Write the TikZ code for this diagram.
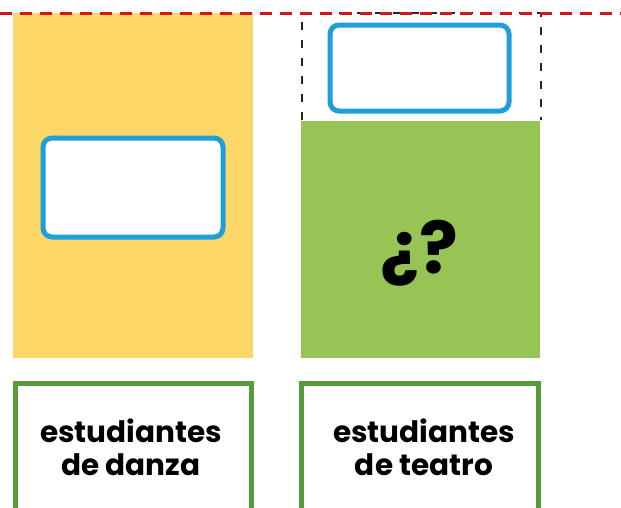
\documentclass[tikz,border=0pt]{standalone}
\usepackage{fontspec}
\setmainfont{Poppins}
\definecolor{yel}{HTML}{FDD868}
\definecolor{grn}{HTML}{98C455}
\definecolor{dgrn}{HTML}{559C3A}
\definecolor{blu}{HTML}{1E9FDA}
\definecolor{red}{HTML}{D7141E}
\tikzset{
  bluebox/.style={draw=blu, line width=5pt, fill=white, rounded corners=9pt},
  labelbox/.style={draw=dgrn, line width=5pt, fill=white},
  lbl/.style={font=\bfseries\fontsize{29.5}{33}\selectfont, align=center, text=black}
}
\begin{document}
\begin{tikzpicture}[x=1pt,y=-1pt]
\useasboundingbox (0,0) rectangle (621,507);
% left column
\fill[yel] (13,13) rectangle (253,358);
\draw[bluebox] (43,138) rectangle (223,237);
% right column
\draw[black!85, line width=2.5pt, dash pattern=on 8pt off 10pt] (302,120) -- (302,13) -- (541,13) -- (541,120);
\draw[bluebox] (330,25) rectangle (509,111);
\fill[grn] (301,121) rectangle (540,358);
\node[font=\bfseries\fontsize{72}{72}\selectfont, text=black] (q) at (419,253) {¿?};
% red dashed line
\draw[red, line width=3pt, dash pattern=on 12pt off 8pt] (0,13) -- (621,13);
% label boxes
\draw[labelbox] (15,383) rectangle (251,512);
\draw[labelbox] (301,383) rectangle (538,512);
\node[lbl] (d) at (131,447) {estudiantes\\de danza};
\node[lbl] (t) at (424,447) {estudiantes\\de teatro};
\end{tikzpicture}
\end{document}
